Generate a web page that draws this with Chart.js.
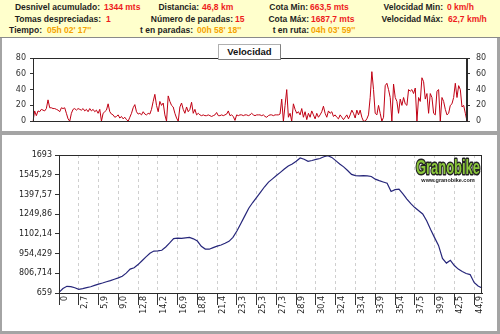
<!DOCTYPE html>
<html><head><meta charset="utf-8">
<script src="https://cdn.jsdelivr.net/npm/chart.js@4"></script>
<style>
html,body{margin:0;padding:0;width:500px;height:334px;overflow:hidden;background:#fff;font-family:"Liberation Sans",Arial,sans-serif;}
#hdr{position:absolute;left:0;top:0;width:500px;height:37px;background:#ffffcc;}
.l,.v{position:absolute;font-weight:bold;font-size:8.5px;line-height:10px;white-space:nowrap;}
.l{color:#1e1e1e;text-align:right;}
.r{color:#ee1c1c}.o{color:#f5a300}
.bar{position:absolute;background:#a4a4a4;z-index:5;}
canvas{position:absolute;left:0;}
#vt{position:absolute;left:218px;top:44px;width:61px;height:14px;border:1px solid #b0b0b0;border-right-color:#808080;border-bottom-color:#808080;background:#fff;font:bold 9.5px "Liberation Sans",Arial,sans-serif;line-height:14px;text-align:center;color:#111;z-index:4;}
</style></head>
<body>
<div id="hdr">
<span class="l" style="right:400px;top:2px">Desnivel acumulado:</span><span class="v r" style="left:104px;top:2px">1344 mts</span>
<span class="l" style="right:301px;top:2px">Distancia:</span><span class="v r" style="left:202px;top:2px">46,8 km</span>
<span class="l" style="right:192px;top:2px">Cota Min:</span><span class="v r" style="left:310px;top:2px">663,5 mts</span>
<span class="l" style="right:57px;top:2px">Velocidad Min:</span><span class="v r" style="left:447px;top:2px">0 km/h</span>
<span class="l" style="right:399px;top:13.5px">Tomas despreciadas:</span><span class="v r" style="left:106px;top:13.5px">1</span>
<span class="l" style="right:267px;top:13.5px">Número de paradas:</span><span class="v r" style="left:235px;top:13.5px">15</span>
<span class="l" style="right:191px;top:13.5px">Cota Máx:</span><span class="v r" style="left:311px;top:13.5px">1687,7 mts</span>
<span class="l" style="right:57px;top:13.5px">Velocidad Máx:</span><span class="v r" style="left:448px;top:13.5px">62,7 km/h</span>
<span class="l" style="right:458px;top:25px">Tiempo:</span><span class="v o" style="left:47px;top:25px">05h 02' 17''</span>
<span class="l" style="right:307px;top:25px">t en paradas:</span><span class="v o" style="left:197px;top:25px">00h 58' 18''</span>
<span class="l" style="right:191px;top:25px">t en ruta:</span><span class="v o" style="left:311px;top:25px">04h 03' 59''</span>
</div>
<div class="bar" style="left:0;top:37px;width:500px;height:1px;background:#8a8a8a"></div>
<div class="bar" style="left:0;top:38px;width:2px;height:296px"></div>
<div class="bar" style="left:497px;top:38px;width:3px;height:296px"></div>
<div class="bar" style="left:0;top:131px;width:500px;height:4px"></div>
<div class="bar" style="left:0;top:331px;width:500px;height:3px"></div>
<div id="vt">Velocidad</div>
<canvas id="cv" width="500" height="94" style="top:38px"></canvas>
<canvas id="ce" width="500" height="196" style="top:135px"></canvas>
<script>
// ---- data ----
const velocity = [
0,13,7,13,12,15,14,13,16,27,
17,17,16,16,15,14,12,17,16,17,
10,3,0,10,15,16,14,16,15,14,
16,13,15,12,16,13,15,12,14,10,
15,0,10,12,14,22,12,9,8,5,
6,8,4,6,3,5,2,0,5,10,
17,21,12,9,10,8,12,9,8,10,
9,15,25,34,20,12,25,20,23,8,
0,32,25,20,18,10,4,0,18,23,
15,10,18,12,15,24,10,15,8,10,
8,7,8,7,7,8,7,6,7,8,
11,7,7,8,7,8,9,13,7,8,
6,1,8,7,8,8,7,8,8,7,
8,
10,8,7,8,8,8,7,8,6,5,
7,8,8,7,8,8,8,9,28,0,
20,40,5,10,0,22,15,10,12,8,
16,5,12,2,10,5,13,8,3,10,
5,8,12,19,10,5,13,10,12,6,
8,5,3,8,5,2,5,8,3,8,
14,10,4,14,8,14,5,0,0,3,
8,30,62.7,40,10,8,20,10,0,5,
45,48,40,30,0,47,30,25,10,28,
20,30,22,20,40,38,40,35,42,0,
30,25,55,50,28,35,10,35,30,10,
8,38,40,0,30,25,15,8,10,20,
22,30,48,30,45,40,18,20,10,0
];
const velMin = 0, velMax = 80, velStep = 20;

const elevation = [
664,693,709,707,698,687,692,699,706,716,
726,734,743,752,762,772,785,808,838,848,
872,901,930,957,973,975,979,1004,1034,1066,
1070,1068,1072,1075,1065,1048,1009,988,987,999,
1010,1019,1032,1046,1076,1123,1180,1237,1294,1337,
1376,1415,1455,1490,1514,1539,1563,1588,1610,1625,
1646,1671,1661,1646,1652,1660,1667,1680,1688,1675,
1651,1626,1604,1577,1548,1538,1537,1538,1537,1532,
1512,1501,1491,1481,1420,1433,1437,1401,1363,1328,
1299,1275,1251,1200,1134,1074,1016,918,883,904,
865,838,820,805,797,738,712,697
];
const distLabels = ['0','2,7','5,9','9,0','12,8','14,2','16,9','18,8','21,4','23,3','25,3','27,3','28,9','30,4','32,4','33,4','33,9','35,4','37,5','39,9','42,5','44,9'];
const distEvery = 5;
const elevTickLabels = ['659','806,714','954,429','1102,14','1249,86','1397,57','1545,29','1693'];
const elevMin = 659, elevMax = 1693;
const logoText = 'Granobike', logoUrl = 'www.granobike.com';

// ---- helpers ----
const tickFont = {family:'"DejaVu Sans", sans-serif', size:8};
const gridCol = '#cfcfcf';
const boxPlugin = {
  id:'box',
  afterDraw(chart){
    const {ctx, chartArea:a} = chart;
    ctx.save();
    ctx.strokeStyle = '#2a2a2a'; ctx.lineWidth = 1;
    ctx.strokeRect(Math.round(a.left)+0.5, Math.round(a.top)+0.5, Math.round(a.right-a.left)-1, Math.round(a.bottom-a.top));
    ctx.restore();
  }
};
const logoPlugin = {
  id:'logo',
  afterDraw(chart){
    const {ctx, chartArea:a} = chart;
    ctx.save();
    const right = a.right - 2, top = a.top + 3;
    ctx.font = 'bold 20px "Liberation Sans Narrow","Liberation Sans",sans-serif';
    const w = ctx.measureText(logoText).width;
    const target = 64;
    ctx.translate(right - target, top);
    ctx.scale(target / w, 1);
    ctx.textBaseline = 'top';
    ctx.lineJoin = 'round';
    ctx.lineWidth = 3; ctx.strokeStyle = '#222';
    ctx.strokeText(logoText, 0, 0);
    ctx.fillStyle = '#8cc83c';
    ctx.fillText(logoText, 0, 0);
    ctx.restore();
    ctx.save();
    ctx.font = 'bold 5.5px "Liberation Sans",sans-serif';
    ctx.textAlign = 'center'; ctx.textBaseline = 'top';
    ctx.fillStyle = '#222';
    ctx.fillText(logoUrl, right - 32, top + 20);
    ctx.restore();
  }
};

// ---- velocity chart ----
new Chart(document.getElementById('cv'), {
  type:'line',
  data:{
    labels: velocity.map((_, i) => i),
    datasets:[{data: velocity, borderColor:'#c00014', borderWidth:1, pointRadius:0, tension:0, yAxisID:'y'}]
  },
  options:{
    responsive:false, animation:false,
    layout:{padding:{top:20, bottom:5, left:0, right:0}},
    plugins:{legend:{display:false}, tooltip:{enabled:false}},
    scales:{
      x:{display:false},
      y:{
        position:'left', min:velMin, max:velMax,
        ticks:{stepSize:velStep, font:tickFont, color:'#333', padding:4},
        grid:{drawOnChartArea:false, tickLength:3, tickColor:'#333'},
        border:{display:true, color:'#2a2a2a'},
        afterFit(s){ s.width = 33; }
      },
      y2:{
        position:'right', min:velMin, max:velMax,
        ticks:{stepSize:velStep, font:tickFont, color:'#333', padding:6},
        grid:{drawOnChartArea:false, tickLength:3, tickColor:'#333'},
        border:{display:true, color:'#2a2a2a'},
        afterFit(s){ s.width = 33; }
      }
    }
  },
  plugins:[boxPlugin]
});

// ---- elevation chart ----
const elevLabels = elevation.map((_, i) => i % distEvery === 0 ? (distLabels[i / distEvery] ?? '') : '');
new Chart(document.getElementById('ce'), {
  type:'line',
  data:{
    labels: elevLabels,
    datasets:[{data: elevation, borderColor:'#26267a', borderWidth:1.2, pointRadius:0, tension:0}]
  },
  options:{
    responsive:false, animation:false,
    layout:{padding:{top:20, bottom:0, left:0, right:18}},
    plugins:{legend:{display:false}, tooltip:{enabled:false}},
    scales:{
      x:{
        ticks:{autoSkip:false, minRotation:90, maxRotation:90, font:tickFont, color:'#222', padding:-9, labelOffset:6},
        grid:{
          color: c => (c.index % distEvery === 0 && c.index > 0) ? gridCol : 'rgba(0,0,0,0)',
          tickColor: c => (c.index % distEvery === 0) ? '#333' : 'rgba(0,0,0,0)',
          tickLength:12
        },
        border:{display:true, color:'#2a2a2a', dash:[3,3]},
        afterFit(s){ s.height = 38; }
      },
      y:{
        min:elevMin, max:elevMax,
        afterBuildTicks(s){
          const n = (elevTickLabels.length - 1) * 2;
          s.ticks = [];
          for (let i = 0; i <= n; i++) s.ticks.push({value: elevMin + (elevMax - elevMin) * i / n});
        },
        ticks:{font:tickFont, color:'#222', padding:3,
          callback:(v, i) => i % 2 === 0 ? elevTickLabels[i / 2] : ''},
        grid:{
          color: c => (c.index % 2 === 1) ? gridCol : 'rgba(0,0,0,0)',
          tickColor:'#333', tickLength:4
        },
        border:{display:true, color:'#2a2a2a', dash:[3,3]},
        afterFit(s){ s.width = 59; }
      }
    }
  },
  plugins:[boxPlugin, logoPlugin]
});
</script>
</body></html>
